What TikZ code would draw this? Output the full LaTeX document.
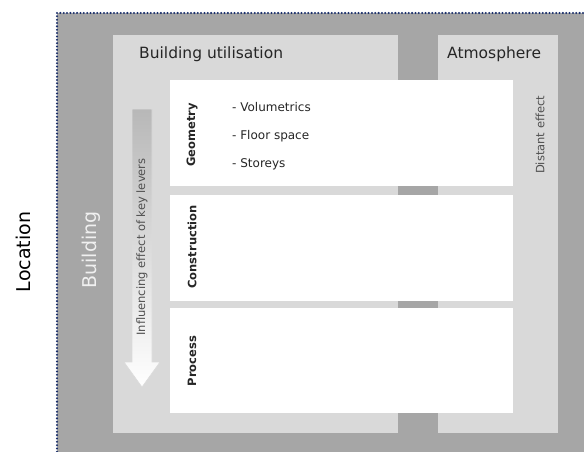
\documentclass[tikz,border=0pt]{standalone}
\usepackage{fontspec}
\setmainfont{DejaVu Sans}
\definecolor{darkgr}{HTML}{A6A6A6}
\definecolor{lightgr}{HTML}{D9D9D9}
\definecolor{navydot}{HTML}{1A2F6B}
\definecolor{txtdark}{HTML}{262626}
\definecolor{txtgray}{HTML}{505050}
\tikzset{
  panel/.style={fill=lightgr, draw=none},
  layerbox/.style={fill=white, draw=none},
  framedot/.style={fill=navydot},
  title/.style={font=\fontsize{15.5}{18}\selectfont, text=txtdark, anchor=west, inner sep=0pt},
  bigside/.style={font=\fontsize{19}{22}\selectfont, rotate=90, inner sep=0pt},
  layerlabel/.style={font=\fontsize{11.5}{13}\selectfont\bfseries, text=txtdark, rotate=90, inner sep=0pt},
  item/.style={font=\fontsize{12}{14}\selectfont, text=txtdark, anchor=west, inner sep=0pt},
  sidenote/.style={font=\fontsize{11.5}{13}\selectfont, text=txtgray, rotate=90, inner sep=0pt}
}
\begin{document}
\begin{tikzpicture}[x=1pt,y=-1pt]
\useasboundingbox (0,0) rectangle (584,452);
% location / building frame
\fill[darkgr] (57,13) rectangle (584,452);
\foreach \i in {0,...,131} {\fill[framedot] (57,13+3.35*\i) circle (1.15pt);}
\foreach \i in {1,...,157} {\fill[framedot] (57+3.35*\i,13) circle (1.15pt);}
% panels
\path[panel] (113,35) rectangle (398,433);
\path[panel] (438,35) rectangle (558,433);
% layer boxes
\path[layerbox] (170,80) rectangle (513,186);
\path[layerbox] (170,195) rectangle (513,301);
\path[layerbox] (170,308) rectangle (513,413);
% influence arrow
\shade[top color=black!28, bottom color=white, draw=black!14, line width=0.6pt]
  (132,109) -- (152,109) -- (152,362) -- (160,362) -- (142,387) -- (124,362) -- (132,362) -- cycle;
% texts
\node[bigside] (loc) at (23,252) {Location};
\node[bigside, text=black!6] (bld) at (91,250) {Building};
\node[title] (bu) at (139,54) {Building utilisation};
\node[title] (atm) at (447,54) {Atmosphere};
\node[sidenote] (infl) at (142,247) {Influencing effect of key levers};
\node[sidenote] (dist) at (540,135) {Distant effect};
\node[layerlabel] (geo) at (192,135) {Geometry};
\node[layerlabel] (con) at (192,247) {Construction};
\node[layerlabel] (pro) at (192,361) {Process};
\node[item] (i1) at (232,107) {- Volumetrics};
\node[item] (i2) at (232,136) {- Floor space};
\node[item] (i3) at (232,164) {- Storeys};
\end{tikzpicture}
\end{document}
